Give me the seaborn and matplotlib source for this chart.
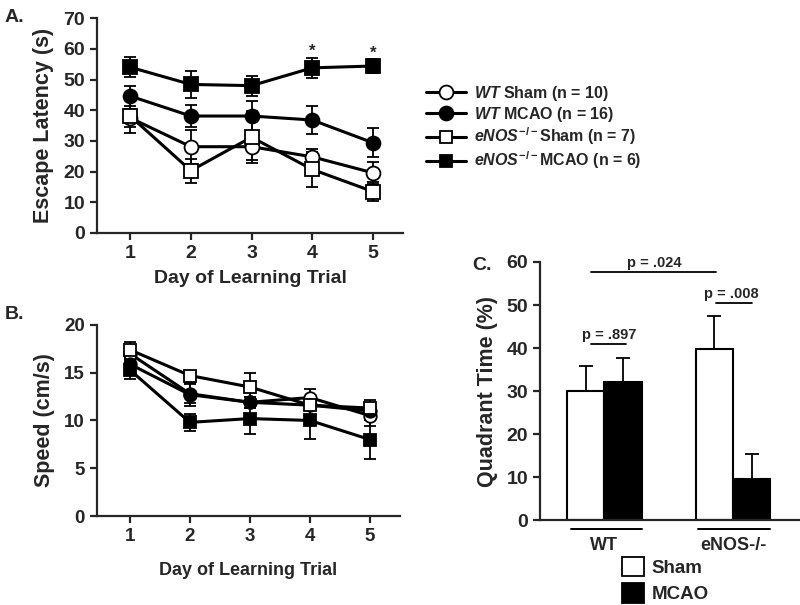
import numpy as np
import pandas as pd
import matplotlib
matplotlib.use("Agg")
import matplotlib.pyplot as plt
from matplotlib.lines import Line2D
from matplotlib.patches import Patch
import seaborn as sns

# ---- data ----
days = [1, 2, 3, 4, 5]

# A. escape latency (s), mean and SEM
wt_sham_lat = [37.5, 28.1, 28.1, 24.8, 19.6]
wt_sham_lat_err = [3.0, 5.5, 4.3, 2.5, 3.5]
wt_mcao_lat = [44.6, 38.1, 38.1, 36.8, 29.4]
wt_mcao_lat_err = [3.3, 3.6, 5.0, 4.6, 4.7]
enos_sham_lat = [38.1, 20.3, 31.2, 20.7, 13.5]
enos_sham_lat_err = [5.4, 3.9, 8.5, 5.6, 3.0]
enos_mcao_lat = [54.0, 48.4, 48.0, 53.8, 54.4]
enos_mcao_lat_err = [3.2, 4.4, 3.3, 3.3, 2.2]

# B. swim speed (cm/s)
wt_sham_spd = [17.0, 12.8, 11.9, 12.4, 10.5]
wt_sham_spd_err = [0.5, 1.0, 0.6, 0.9, 1.1]
wt_mcao_spd = [15.9, 12.7, 11.9, 11.6, 11.0]
wt_mcao_spd_err = [0.5, 1.2, 0.6, 0.5, 0.5]
enos_sham_spd = [17.4, 14.7, 13.5, 11.6, 11.3]
enos_sham_spd_err = [0.8, 0.3, 1.5, 0.5, 0.8]
enos_mcao_spd = [15.3, 9.8, 10.2, 10.0, 8.0]
enos_mcao_spd_err = [1.0, 0.9, 1.6, 1.9, 2.0]

# C. quadrant time (%)
genotypes = ["WT", "eNOS-/-"]
conditions = ["Sham", "MCAO"]
sham_qt = [30.0, 39.7]
sham_qt_err = [5.9, 7.8]
mcao_qt = [32.1, 9.6]
mcao_qt_err = [5.6, 5.9]

sig_days = [4, 5]

# ---- style ----
sns.set_style("ticks")
plt.rcParams["font.family"] = ["Liberation Sans", "DejaVu Sans"]
plt.rcParams["font.weight"] = "bold"
plt.rcParams["mathtext.fontset"] = "custom"
plt.rcParams["mathtext.it"] = "Liberation Sans:italic:bold"
plt.rcParams["mathtext.rm"] = "Liberation Sans:bold"
plt.rcParams["mathtext.bf"] = "Liberation Sans:bold"
plt.rcParams["axes.linewidth"] = 1.6
plt.rcParams["xtick.major.width"] = 1.6
plt.rcParams["ytick.major.width"] = 1.6
plt.rcParams["xtick.major.size"] = 5
plt.rcParams["ytick.major.size"] = 5

fig = plt.figure(figsize=(8, 6.05), dpi=100)
axA = fig.add_axes([0.121, 0.615, 0.383, 0.355])
axB = fig.add_axes([0.121, 0.147, 0.379, 0.316])
axC = fig.add_axes([0.675, 0.140, 0.325, 0.427])

groups = [
    ("WT Sham", "o", "white"),
    ("WT MCAO", "o", "black"),
    ("eNOS Sham", "s", "white"),
    ("eNOS MCAO", "s", "black"),
]
lat = [(wt_sham_lat, wt_sham_lat_err), (wt_mcao_lat, wt_mcao_lat_err),
       (enos_sham_lat, enos_sham_lat_err), (enos_mcao_lat, enos_mcao_lat_err)]
spd = [(wt_sham_spd, wt_sham_spd_err), (wt_mcao_spd, wt_mcao_spd_err),
       (enos_sham_spd, enos_sham_spd_err), (enos_mcao_spd, enos_mcao_spd_err)]


def draw_lines(ax, series, ms):
    for (name, mk, fc), (vals, errs) in zip(groups, series):
        ax.errorbar(days, vals, yerr=errs, fmt="none", ecolor="black",
                    elinewidth=1.3, capsize=4, capthick=1.3, zorder=2)
        sns.lineplot(x=days, y=vals, ax=ax, color="black", linewidth=2.2,
                     marker=mk, markersize=ms, markerfacecolor=fc,
                     markeredgecolor="black", markeredgewidth=1.3, zorder=3)


# A
draw_lines(axA, lat, 10)
for d in sig_days:
    axA.text(d, enos_mcao_lat[d - 1] + enos_mcao_lat_err[d - 1] - 0.5, "*",
             ha="center", va="bottom", fontsize=12, fontweight="bold")
axA.set_xlim(0.45, 5.5)
axA.set_ylim(0, 70)
axA.set_yticks(range(0, 71, 10))
axA.set_xticks(days)
axA.tick_params(labelsize=14)
axA.set_ylabel("Escape Latency (s)", fontsize=15.5, fontweight="bold", labelpad=7)
axA.set_xlabel("Day of Learning Trial", fontsize=14, fontweight="bold", labelpad=6)
sns.despine(ax=axA)

# B
draw_lines(axB, spd, 9)
axB.set_xlim(0.45, 5.5)
axB.set_ylim(0, 20)
axB.set_yticks(range(0, 21, 5))
axB.set_xticks(days)
axB.tick_params(labelsize=13.5)
axB.set_ylabel("Speed (cm/s)", fontsize=15.5, fontweight="bold", labelpad=7)
axB.set_xlabel("Day of Learning Trial", fontsize=13, fontweight="bold", labelpad=12)
sns.despine(ax=axB)

# legend for A/B
leg_labels = [r"$\it{WT}$ Sham (n = 10)", r"$\it{WT}$ MCAO (n = 16)",
              r"$\it{eNOS}^{-/-}$Sham (n = 7)", r"$\it{eNOS}^{-/-}$MCAO (n = 6)"]
handles = [Line2D([0], [0], color="black", lw=2.2, marker=mk, markersize=10 if mk == "o" else 9,
                  markerfacecolor=fc, markeredgecolor="black", markeredgewidth=1.3)
           for _, mk, fc in groups]
fig.legend(handles, leg_labels, loc="upper left", bbox_to_anchor=(0.515, 0.885),
           frameon=False, fontsize=11.5, handlelength=2.5, handletextpad=0.5,
           labelspacing=0.12)

# C
qt_df = pd.DataFrame({
    "genotype": genotypes * 2,
    "condition": ["Sham"] * 2 + ["MCAO"] * 2,
    "value": sham_qt + mcao_qt,
    "err": sham_qt_err + mcao_qt_err,
})
sns.barplot(data=qt_df, x="genotype", y="value", hue="condition", order=genotypes,
            hue_order=conditions, palette={"Sham": "white", "MCAO": "black"},
            edgecolor="black", linewidth=1.5, width=0.58, errorbar=None,
            legend=False, ax=axC)
for p in axC.patches:
    h = p.get_height()
    row = qt_df.loc[(qt_df["value"] - h).abs().idxmin()]
    xc = p.get_x() + p.get_width() / 2
    axC.errorbar(xc, h, yerr=[[0], [row["err"]]], fmt="none", ecolor="black",
                 elinewidth=1.3, capsize=5, capthick=1.3, zorder=1)
axC.set_xlim(-0.5, 1.52)
axC.set_ylim(0, 60)
axC.set_yticks(range(0, 61, 10))
axC.tick_params(axis="y", labelsize=14)
axC.tick_params(axis="x", length=0, labelsize=13, pad=12)
axC.set_xlabel("")
axC.set_ylabel("Quadrant Time (%)", fontsize=15.5, fontweight="bold", labelpad=6)
sns.despine(ax=axC)

# group underlines
for x0, x1 in [(-0.26, 0.29), (0.73, 1.29)]:
    axC.plot([x0, x1], [-2.1, -2.1], color="black", lw=1.4, clip_on=False)

# p-value brackets
for (x0, x1, y, txt) in [(-0.1, 0.87, 57.7, "p = .024"),
                         (-0.1, 0.17, 40.9, "p = .897"),
                         (0.87, 1.15, 50.5, "p = .008")]:
    axC.plot([x0, x1], [y, y], color="black", lw=1.3)
    axC.text((x0 + x1) / 2 + (0.0 if txt != "p = .008" else -0.02), y + 0.4, txt,
             ha="center", va="bottom", fontsize=10.5, fontweight="bold")

fig.legend([Patch(facecolor="white", edgecolor="black", lw=1.3),
            Patch(facecolor="black", edgecolor="black", lw=1.3)],
           conditions, loc="upper left", bbox_to_anchor=(0.768, 0.092),
           frameon=False, fontsize=13.5, handlelength=1.2, handleheight=1.2,
           handletextpad=0.4, labelspacing=0.35, borderaxespad=0)

# panel letters
fig.text(0.006, 0.985, "A.", fontsize=14, fontweight="bold", va="top")
fig.text(0.006, 0.495, "B.", fontsize=14, fontweight="bold", va="top")
fig.text(0.590, 0.575, "C.", fontsize=14, fontweight="bold", va="top")

fig.savefig("out.png", dpi=100)
